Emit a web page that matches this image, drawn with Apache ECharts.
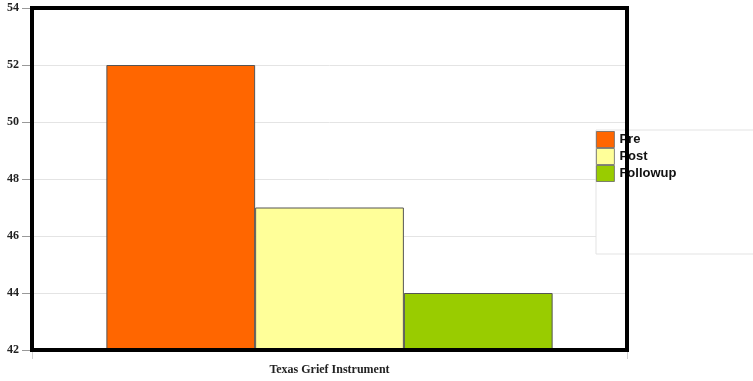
<!DOCTYPE html>
<html>
<head>
<meta charset="utf-8">
<script src="https://cdn.jsdelivr.net/npm/echarts@6/dist/echarts.min.js"></script>
<style>
  html, body { margin: 0; padding: 0; background: #fff; }
  #chart { width: 753px; height: 381px; }
</style>
</head>
<body>
<div id="chart"></div>
<script>
// Mean scores on the Texas Grief Instrument at each measurement point
const categories = ['Texas Grief Instrument'];
const seriesNames = ['Pre', 'Post', 'Followup'];
const preValues = [52];
const postValues = [47];
const followupValues = [44];
const seriesColors = ['#FF6600', '#FFFF99', '#99CC00'];
const yTicks = { min: 42, max: 54, interval: 2 };

const seriesValues = [preValues, postValues, followupValues];

const chart = echarts.init(document.getElementById('chart'), null, { renderer: 'canvas' });

const serifLabel = {
  fontFamily: '"Liberation Serif", "Times New Roman", serif',
  fontWeight: 'bold',
  fontSize: 12,
  color: '#222'
};

chart.setOption({
  animation: false,
  backgroundColor: '#fff',
  grid: {
    left: 32, top: 8, width: 595, height: 342,
    show: true,
    borderColor: '#000',
    borderWidth: 4,
    backgroundColor: 'transparent',
    z: 10
  },
  legend: {
    orient: 'vertical',
    left: 596,
    top: 130,
    z: 5,
    padding: [1, 200, 72, 0],
    backgroundColor: '#fff',
    borderColor: '#e3e3e3',
    borderWidth: 1,
    itemGap: 0,
    itemWidth: 18,
    itemHeight: 16,
    icon: 'rect',
    itemStyle: { borderColor: '#666', borderWidth: 0.8 },
    textStyle: {
      fontFamily: '"Liberation Sans", Arial, sans-serif',
      fontWeight: 'bold',
      fontSize: 13,
      lineHeight: 17,
      color: '#111'
    },
    data: seriesNames
  },
  xAxis: {
    type: 'category',
    data: categories,
    axisLine: { show: true, lineStyle: { color: '#d0d0d0' } },
    axisTick: { show: true, length: 9, lineStyle: { color: '#d0d0d0' } },
    axisLabel: Object.assign({ margin: 14 }, serifLabel),
    splitLine: { show: false }
  },
  yAxis: {
    type: 'value',
    min: yTicks.min,
    max: yTicks.max,
    interval: yTicks.interval,
    axisLine: { show: false },
    axisTick: { show: true, length: 10, lineStyle: { color: '#999' } },
    axisLabel: Object.assign({ margin: 13 }, serifLabel),
    splitLine: { show: true, lineStyle: { color: '#e4e4e4', width: 1 } }
  },
  series: seriesNames.map((name, i) => ({
    name: name,
    type: 'bar',
    data: seriesValues[i],
    barGap: '0%',
    barCategoryGap: '25%',
    itemStyle: {
      color: seriesColors[i],
      borderColor: '#555',
      borderWidth: 1
    }
  }))
});
</script>
</body>
</html>
